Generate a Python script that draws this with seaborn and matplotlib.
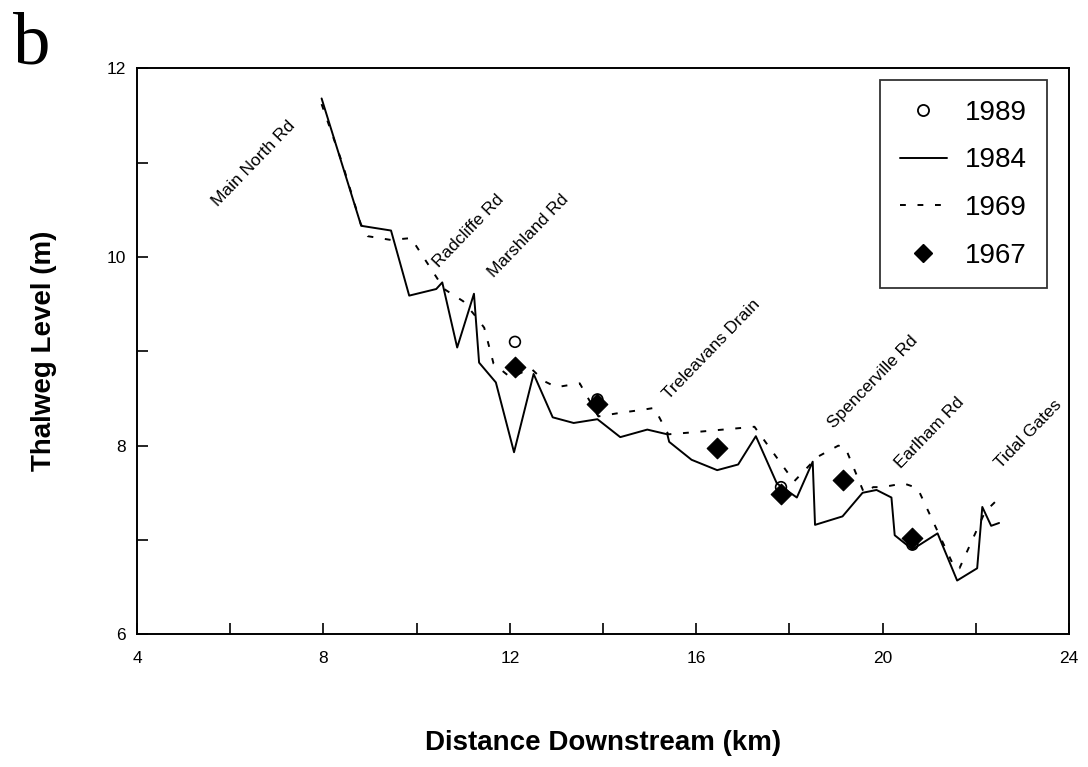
import matplotlib
matplotlib.use("Agg")
import matplotlib.pyplot as plt
import seaborn as sns
import pandas as pd
from matplotlib.ticker import MultipleLocator, FuncFormatter
from matplotlib.lines import Line2D

# ---- data ----
km_1984 = [7.96, 8.81, 9.45, 9.84, 10.42, 10.55, 10.87, 11.23, 11.34, 11.70, 12.09, 12.51,
           12.92, 13.37, 13.88, 14.37, 14.95, 15.38, 15.42, 15.90, 16.45, 16.90, 17.28, 17.73,
           18.16, 18.50, 18.55, 19.14, 19.57, 19.87, 20.19, 20.26, 20.64, 21.18, 21.60, 22.03,
           22.14, 22.33, 22.50]
lvl_1984 = [11.68, 10.33, 10.28, 9.59, 9.66, 9.73, 9.04, 9.61, 8.88, 8.67, 7.93, 8.76,
            8.30, 8.24, 8.28, 8.09, 8.17, 8.12, 8.04, 7.85, 7.74, 7.80, 8.10, 7.60,
            7.45, 7.83, 7.16, 7.25, 7.50, 7.53, 7.45, 7.05, 6.90, 7.07, 6.57, 6.70,
            7.35, 7.15, 7.18]

km_1969 = [7.96, 8.40, 8.80, 8.95, 9.45, 9.88, 10.59, 11.00, 11.25, 11.45, 11.65, 12.02,
           12.45, 12.75, 13.00, 13.50, 13.90, 14.40, 14.85, 15.10, 15.40, 15.90, 16.80,
           17.25, 18.10, 18.60, 19.05, 19.20, 19.60, 19.80, 20.00, 20.45, 20.75, 21.55,
           21.65, 22.20, 22.45]
lvl_1969 = [11.62, 11.00, 10.35, 10.22, 10.18, 10.20, 9.66, 9.53, 9.38, 9.25, 8.87, 8.72,
            8.82, 8.68, 8.62, 8.66, 8.31, 8.35, 8.38, 8.40, 8.12, 8.14, 8.18,
            8.20, 7.62, 7.88, 8.00, 7.98, 7.50, 7.56, 7.56, 7.60, 7.55, 6.70,
            6.70, 7.30, 7.42]

km_1989 = [12.11, 13.88, 17.82, 20.64]
lvl_1989 = [9.10, 8.49, 7.56, 6.95]

km_1967 = [12.11, 13.88, 16.45, 17.82, 19.14, 20.64]
lvl_1967 = [8.83, 8.44, 7.97, 7.49, 7.64, 7.02]

site_names = ["Main North Rd", "Radcliffe Rd", "Marshland Rd", "Treleavans Drain",
              "Spencerville Rd", "Earlham Rd", "Tidal Gates"]
site_km = [6.50, 11.12, 12.39, 16.34, 19.79, 21.00, 23.14]
site_lvl = [10.99, 10.28, 10.22, 9.02, 8.67, 8.14, 8.12]

legend_labels = ["1989", "1984", "1969", "1967"]

# ---- plotting ----
sns.set_theme(style="ticks")
plt.rcParams["font.family"] = ["Liberation Sans", "DejaVu Sans"]
plt.rcParams["text.color"] = "black"
plt.rcParams["axes.labelcolor"] = "black"

fig = plt.figure(figsize=(10.88, 7.67), dpi=100)
ax = fig.add_axes([0.126, 0.173, 0.8565, 0.738])

df84 = pd.DataFrame({"km": km_1984, "lvl": lvl_1984})
df69 = pd.DataFrame({"km": km_1969, "lvl": lvl_1969})
df89 = pd.DataFrame({"km": km_1989, "lvl": lvl_1989})
df67 = pd.DataFrame({"km": km_1967, "lvl": lvl_1967})

dash = (0, (3, 6))
sns.lineplot(data=df84, x="km", y="lvl", sort=False, estimator=None, ax=ax,
             color="black", linewidth=1.4, linestyle="-")
sns.lineplot(data=df69, x="km", y="lvl", sort=False, estimator=None, ax=ax,
             color="black", linewidth=1.4, linestyle=dash)
sns.scatterplot(data=df67, x="km", y="lvl", ax=ax, marker="D", s=110,
                color="black", edgecolor="black", zorder=4)
sns.scatterplot(data=df89, x="km", y="lvl", ax=ax, marker="o", s=60,
                facecolor="none", edgecolor="black", linewidth=1.2, zorder=5)

for name, x, y in zip(site_names, site_km, site_lvl):
    ax.text(x, y, name, rotation=46, ha="center", va="center",
            rotation_mode="anchor", fontsize=12.5, color="black")

ax.set_xlim(4, 24)
ax.set_ylim(6, 12)
ax.xaxis.set_major_locator(MultipleLocator(2))
ax.yaxis.set_major_locator(MultipleLocator(1))
ax.xaxis.set_major_formatter(FuncFormatter(lambda v, p: f"{int(round(v))}" if round(v) % 4 == 0 else ""))
ax.yaxis.set_major_formatter(FuncFormatter(lambda v, p: f"{int(round(v))}" if round(v) % 2 == 0 else ""))
ax.tick_params(direction="in", length=8, width=1.2, labelsize=12.5,
               colors="black", labelcolor="black")
ax.tick_params(axis="x", pad=12)
ax.tick_params(axis="y", pad=8)

for sp in ax.spines.values():
    sp.set_visible(True)
    sp.set_color("black")
    sp.set_linewidth(1.4)

ax.set_xlabel("Distance Downstream (km)", fontsize=20, fontweight="bold", labelpad=46)
ax.set_ylabel("Thalweg Level (m)", fontsize=20, fontweight="bold", labelpad=36)

handles = [
    Line2D([], [], marker="o", linestyle="none", markerfacecolor="none",
           markeredgecolor="black", markersize=8, markeredgewidth=1.3),
    Line2D([], [], color="black", linewidth=1.4),
    Line2D([], [], color="black", linewidth=1.4, linestyle=dash),
    Line2D([], [], marker="D", linestyle="none", color="black", markersize=9),
]
leg = ax.legend(handles, legend_labels, loc="upper right",
                bbox_to_anchor=(0.976, 0.979), borderaxespad=0, fontsize=20,
                frameon=True, fancybox=False, edgecolor="black",
                handlelength=1.7, labelspacing=0.78, borderpad=0.7,
                handletextpad=0.65)
leg.get_frame().set_linewidth(1.3)

fig.text(0.012, 0.985, "b", fontsize=54, family="Liberation Serif", va="top", ha="left")

fig.savefig("out.png", dpi=100)
